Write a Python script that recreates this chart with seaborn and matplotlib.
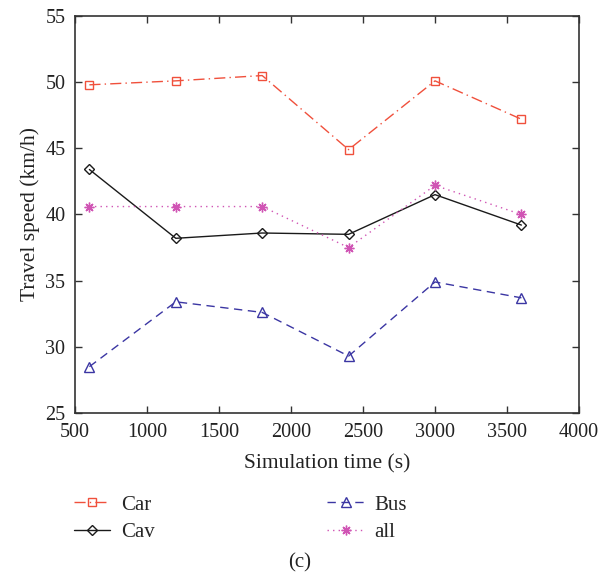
import numpy as np
import pandas as pd
import matplotlib
matplotlib.use("Agg")
import matplotlib.pyplot as plt
import seaborn as sns

# values
sim_time = [600, 1200, 1800, 2400, 3000, 3600]
car = [49.8, 50.1, 50.5, 44.9, 50.1, 47.2]
cav = [43.4, 38.2, 38.6, 38.5, 41.5, 39.2]
bus = [28.5, 33.4, 32.6, 29.3, 34.9, 33.7]
all_veh = [40.6, 40.6, 40.6, 37.5, 42.2, 40.0]

sns.set_style("ticks")
plt.rcParams['font.family'] = ['Liberation Serif', 'DejaVu Serif']
plt.rcParams['xtick.direction'] = 'in'
plt.rcParams['ytick.direction'] = 'in'

fig = plt.figure(figsize=(5.99, 5.8), dpi=100)
ax = fig.add_axes([0.1252, 0.288, 0.8414, 0.6844])

series = [
    ("Car", car, "#f0503c", "s", (0, (8, 3, 1, 3)), 5.5),
    ("Cav", cav, "#1a1a1a", "D", "-", 5.5),
    ("Bus", bus, "#3b36a3", "^", (0, (6, 4)), 6.5),
    ("all", all_veh, "#d054b4", (8, 2, 0), (0, (1, 3)), 7),
]

for name, vals, col, mk, ls, ms in series:
    sns.lineplot(x=sim_time, y=vals, ax=ax, color=col, marker=mk,
                 linestyle=ls, linewidth=1.0, markersize=ms,
                 markerfacecolor='none', markeredgecolor=col,
                 markeredgewidth=1.0, label=name, legend=False)

ax.set_xlim(500, 4000)
ax.set_ylim(25, 55)
ax.set_xticks(np.arange(500, 4001, 500))
ax.set_yticks(np.arange(25, 56, 5))
ax.tick_params(top=True, right=True, labelsize=14.5, length=5, width=1,
               colors='#333333', labelcolor='#222222')
ax.tick_params(axis='x', pad=7)
ax.tick_params(axis='y', pad=7)
for s in ax.spines.values():
    s.set_color('#333333')
    s.set_linewidth(1.2)

ax.set_xlabel("Simulation time (s)", fontsize=15.5, color='#222222', labelpad=9)
ax.set_ylabel("Travel speed (km/h)", fontsize=15.5, color='#222222', labelpad=4)

handles, labels = ax.get_legend_handles_labels()
fig.legend(handles, labels, ncol=2, frameon=False, loc='upper left',
           bbox_to_anchor=(0.092, 0.179), fontsize=15, handlelength=1.75,
           columnspacing=8.3, labelspacing=0.4, handletextpad=0.5)

fig.text(0.5, 0.029, "(c)", ha='center', va='center', fontsize=15,
         color='#222222')

fig.savefig("out.png", dpi=100)
